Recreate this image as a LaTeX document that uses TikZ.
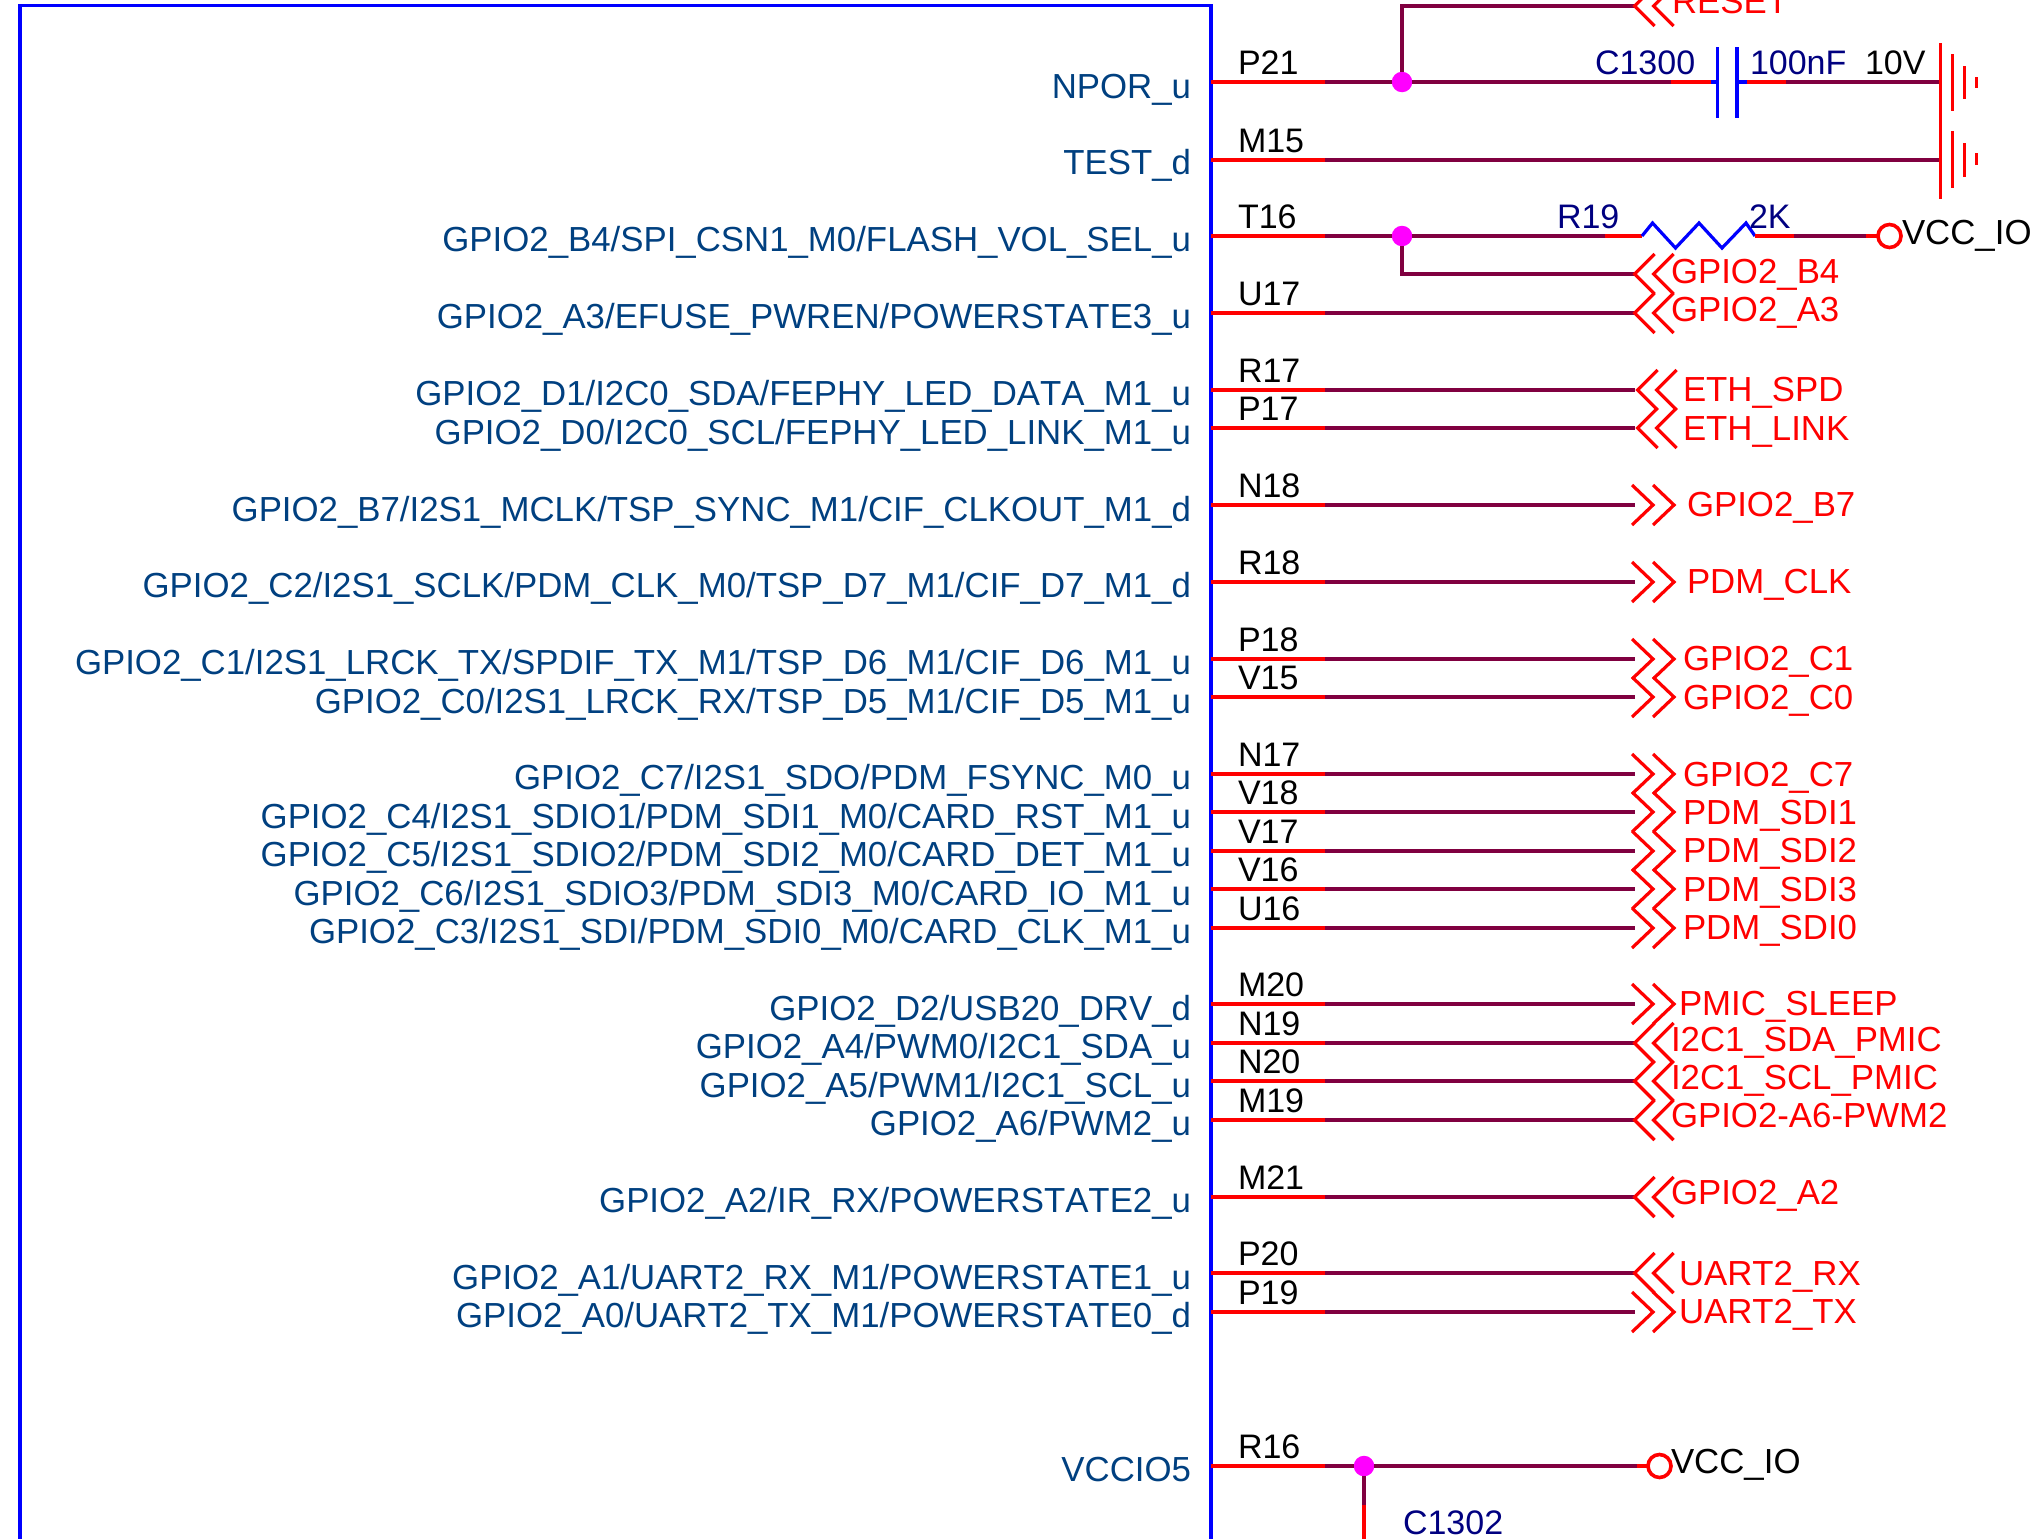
\documentclass[tikz,border=0pt]{standalone}
\usepackage{fontspec}
\setmainfont[Kerning=Off]{Liberation Sans}
\definecolor{wirec}{HTML}{800040}
\definecolor{pinc}{HTML}{FF0000}
\definecolor{bodyc}{HTML}{0000FF}
\definecolor{namec}{HTML}{004080}
\definecolor{refc}{HTML}{000080}
\definecolor{dotc}{HTML}{FF00FF}
\newcommand{\fs}{\fontsize{34}{34}\selectfont}
\newcommand{\fn}{\fontsize{34.8}{34.8}\selectfont}
\tikzset{
  x=1pt,y=-1pt,
  txt/.style={inner sep=0pt,outer sep=0pt,font=\fs},
  pinname/.style={txt,font=\fn,anchor=base east,text=namec},
  pinnum/.style={txt,anchor=base west,text=black},
  netlab/.style={txt,font=\fn,anchor=base west,text=pinc},
  reflab/.style={txt,anchor=base west,text=refc},
  vallab/.style={txt,anchor=base west,text=black},
  wire/.style={draw=wirec,line width=3.6pt},
  pinl/.style={draw=pinc,line width=3.6pt},
  bodyl/.style={draw=bodyc,line width=3.2pt},
  gnd/.style={draw=pinc,line width=3pt},
  chev/.style={draw=pinc,line width=3.2pt},
  jdot/.style={fill=dotc,draw=none,circle,minimum size=20.5pt,inner sep=0pt},
  oterm/.style={draw=pinc,line width=3.6pt,circle,minimum size=23pt,inner sep=0pt},
}
\newcommand{\LC}[2]{\draw[chev] (#1+20,#2-20)--(#1,#2)--(#1+20,#2+20) (#1+39,#2-20)--(#1+19,#2)--(#1+39,#2+20);}
\newcommand{\RC}[2]{\draw[chev] (#1-2,#2-20)--(#1+19,#2)--(#1-2,#2+20) (#1+19,#2-20)--(#1+40,#2)--(#1+19,#2+20);}
\newcommand{\pinrow}[4]{%
  \coordinate (a#2) at (1211,#1);
  \coordinate (b#2) at (1325,#1);
  \draw[pinl] (a#2)--(b#2);
  \node[pinnum] (n#2) at (1238,#1-8) {#2};
  \node[pinname] (t#2) at (1191,#4) {#3};
}
\newcommand{\netrow}[2]{\coordinate (e#1) at (1634.5,#2); \draw[wire] (b#1)--(e#1);}
\begin{document}
\begin{tikzpicture}
\useasboundingbox (0,0) rectangle (2035,1539);
\clip (0,0) rectangle (2035,1539);
\fill[white] (0,0) rectangle (2035,1539);
% body
\draw[bodyl] (20,1545)--(20,5.5)--(1211,5.5)--(1211,1545);
% pins
\pinrow{82}{P21}{NPOR\_u}{98}
\pinrow{160}{M15}{TEST\_d}{174.5}
\pinrow{236}{T16}{GPIO2\_B4/SPI\_CSN1\_M0/FLASH\_VOL\_SEL\_u}{251.5}
\pinrow{313}{U17}{GPIO2\_A3/EFUSE\_PWREN/POWERSTATE3\_u}{328.5}
\pinrow{390}{R17}{GPIO2\_D1/I2C0\_SDA/FEPHY\_LED\_DATA\_M1\_u}{405}
\pinrow{428}{P17}{GPIO2\_D0/I2C0\_SCL/FEPHY\_LED\_LINK\_M1\_u}{444}
\pinrow{505}{N18}{GPIO2\_B7/I2S1\_MCLK/TSP\_SYNC\_M1/CIF\_CLKOUT\_M1\_d}{521}
\pinrow{582}{R18}{GPIO2\_C2/I2S1\_SCLK/PDM\_CLK\_M0/TSP\_D7\_M1/CIF\_D7\_M1\_d}{597.5}
\pinrow{659}{P18}{GPIO2\_C1/I2S1\_LRCK\_TX/SPDIF\_TX\_M1/TSP\_D6\_M1/CIF\_D6\_M1\_u}{674.5}
\pinrow{697}{V15}{GPIO2\_C0/I2S1\_LRCK\_RX/TSP\_D5\_M1/CIF\_D5\_M1\_u}{713}
\pinrow{774}{N17}{GPIO2\_C7/I2S1\_SDO/PDM\_FSYNC\_M0\_u}{789}
\pinrow{812}{V18}{GPIO2\_C4/I2S1\_SDIO1/PDM\_SDI1\_M0/CARD\_RST\_M1\_u}{828}
\pinrow{851}{V17}{GPIO2\_C5/I2S1\_SDIO2/PDM\_SDI2\_M0/CARD\_DET\_M1\_u}{866}
\pinrow{889}{V16}{GPIO2\_C6/I2S1\_SDIO3/PDM\_SDI3\_M0/CARD\_IO\_M1\_u}{905}
\pinrow{928}{U16}{GPIO2\_C3/I2S1\_SDI/PDM\_SDI0\_M0/CARD\_CLK\_M1\_u}{943}
\pinrow{1004}{M20}{GPIO2\_D2/USB20\_DRV\_d}{1020}
\pinrow{1043}{N19}{GPIO2\_A4/PWM0/I2C1\_SDA\_u}{1058.5}
\pinrow{1081}{N20}{GPIO2\_A5/PWM1/I2C1\_SCL\_u}{1097}
\pinrow{1120}{M19}{GPIO2\_A6/PWM2\_u}{1135.5}
\pinrow{1197}{M21}{GPIO2\_A2/IR\_RX/POWERSTATE2\_u}{1212}
\pinrow{1273}{P20}{GPIO2\_A1/UART2\_RX\_M1/POWERSTATE1\_u}{1289}
\pinrow{1312}{P19}{GPIO2\_A0/UART2\_TX\_M1/POWERSTATE0\_d}{1327}
\pinrow{1466}{R16}{VCCIO5}{1481}
% P21 net
\node[jdot] (j1) at (1402,82) {};
\coordinate (rtop) at (1402,6);
\coordinate (rend) at (1634.5,6);
\draw[wire] (j1)--(rtop)--(rend);
\LC{1634.5}{6}
\node[netlab] (lreset) at (1672,13) {RESET};
\coordinate (c1a) at (1671,82); \coordinate (c1b) at (1711,82);
\coordinate (c1l) at (1717.5,82); \coordinate (c1r) at (1737,82);
\coordinate (c1c) at (1747,82); \coordinate (c1d) at (1786,82);
\coordinate (g1) at (1940,82);
\draw[wire] (bP21)--(j1);
\draw[wire] (j1)--(c1a);
\draw[pinl] (c1a)--(c1b);
\draw[bodyl] (c1b)--(c1l) (c1r)--(c1c);
\draw[bodyl] (1717.5,47)--(1717.5,118) (1737,47)--(1737,118);
\draw[pinl] (c1c)--(c1d);
\draw[wire] (c1d)--(g1);
\node[reflab] (lc1300) at (1595,74) {C1300};
\node[reflab] (l100n) at (1750,74) {100nF};
\node[vallab] (l10v) at (1865,74) {10V};
\draw[gnd] (1940,43)--(1940,120) (1952,54)--(1952,111) (1964,66)--(1964,99) (1976,77)--(1976,88);
% M15 net
\coordinate (g2) at (1940,160);
\draw[wire] (bM15)--(g2);
\draw[gnd] (1940,120)--(1940,199) (1952,131)--(1952,188) (1964,143)--(1964,177) (1976,153)--(1976,165);
% T16 net
\node[jdot] (j2) at (1402,236) {};
\coordinate (r1) at (1605,236); \coordinate (r2) at (1642,236);
\coordinate (r3) at (1755,236); \coordinate (r4) at (1794,236);
\coordinate (r5) at (1866,236); \coordinate (r6) at (1877,236);
\draw[wire] (bT16)--(j2);
\draw[wire] (j2)--(r1);
\draw[pinl] (r1)--(r2);
\draw[bodyl] (r2)--(1652.5,223)--(1675.5,248)--(1699,223)--(1722,248)--(1746,223)--(r3);
\draw[pinl] (r3)--(r4);
\draw[wire] (r4)--(r5);
\draw[pinl] (r5)--(r6);
\node[oterm] (o1) at (1889.5,236) {};
\node[vallab,font=\fn] (lvcc1) at (1902,244) {VCC\_IO};
\node[reflab] (lr19) at (1557,228) {R19};
\node[reflab] (l2k) at (1749,228) {2K};
\coordinate (b4a) at (1402,274); \coordinate (b4b) at (1634.5,274);
\draw[wire] (j2)--(b4a)--(b4b);
\LC{1634.5}{274}
\node[netlab] (lb4) at (1671,283) {GPIO2\_B4};
% plain nets
\netrow{U17}{313} \LC{1634.5}{313} \node[netlab] (la3) at (1671,321) {GPIO2\_A3};
\netrow{R17}{390} \LC{1637.5}{390} \node[netlab] (leth1) at (1683,401) {ETH\_SPD};
\netrow{P17}{428} \LC{1637.5}{428} \node[netlab] (leth2) at (1683,440) {ETH\_LINK};
\netrow{N18}{505} \RC{1634}{505} \node[netlab] (lb7) at (1687,516) {GPIO2\_B7};
\netrow{R18}{582} \RC{1634}{582} \node[netlab] (lpdm) at (1687,593) {PDM\_CLK};
\netrow{P18}{659} \RC{1634}{659} \node[netlab] (lc1) at (1683,670) {GPIO2\_C1};
\netrow{V15}{697} \RC{1634}{697} \node[netlab] (lc0) at (1683,709) {GPIO2\_C0};
\netrow{N17}{774} \RC{1634}{774} \node[netlab] (lc7) at (1683,786) {GPIO2\_C7};
\netrow{V18}{812} \RC{1634}{812} \node[netlab] (ls1) at (1683,824) {PDM\_SDI1};
\netrow{V17}{851} \RC{1634}{851} \node[netlab] (ls2) at (1683,862) {PDM\_SDI2};
\netrow{V16}{889} \RC{1634}{889} \node[netlab] (ls3) at (1683,901) {PDM\_SDI3};
\netrow{U16}{928} \RC{1634}{928} \node[netlab] (ls0) at (1683,939) {PDM\_SDI0};
\netrow{M20}{1004} \RC{1634}{1004} \node[netlab] (lsl) at (1679,1015) {PMIC\_SLEEP};
\netrow{N19}{1043} \LC{1634.5}{1043} \node[netlab] (lsda) at (1671,1051) {I2C1\_SDA\_PMIC};
\netrow{N20}{1081} \LC{1634.5}{1081} \node[netlab] (lscl) at (1671,1089) {I2C1\_SCL\_PMIC};
\netrow{M19}{1120} \LC{1634.5}{1120} \node[netlab] (la6) at (1671,1127) {GPIO2-A6-PWM2};
\netrow{M21}{1197} \LC{1634.5}{1197} \node[netlab] (la2) at (1671,1204) {GPIO2\_A2};
\netrow{P20}{1273} \LC{1634.5}{1273} \node[netlab] (lrx) at (1679,1285) {UART2\_RX};
\netrow{P19}{1312} \RC{1634}{1312} \node[netlab] (ltx) at (1679,1323) {UART2\_TX};
% R16 net
\node[jdot] (j3) at (1364,1466) {};
\coordinate (v1) at (1636.5,1466); \coordinate (v2) at (1648,1466);
\draw[wire] (bR16)--(j3);
\draw[wire] (j3)--(v1);
\draw[pinl] (v1)--(v2);
\node[oterm] (o2) at (1659.5,1466) {};
\node[vallab,font=\fn] (lvcc2) at (1671,1473) {VCC\_IO};
\coordinate (d1) at (1364,1505); \coordinate (d2) at (1364,1545);
\draw[wire] (j3)--(d1);
\draw[pinl] (d1)--(d2);
\node[reflab] (lc1302) at (1403,1534) {C1302};
\end{tikzpicture}
\end{document}
